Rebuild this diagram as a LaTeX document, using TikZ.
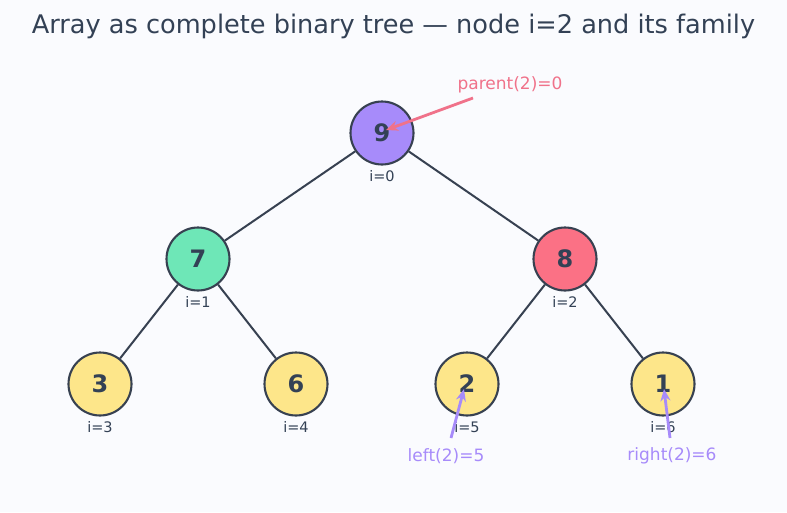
\documentclass[tikz,border=0pt]{standalone}
\usepackage{fontspec}
\setmainfont{DejaVu Sans}
\usetikzlibrary{arrows.meta}
\definecolor{bg}{HTML}{FAFBFE}
\definecolor{ink}{HTML}{374151}
\definecolor{txt}{HTML}{334155}
\definecolor{cviolet}{HTML}{A78BFA}
\definecolor{cgreen}{HTML}{6EE7B7}
\definecolor{crose}{HTML}{FB7185}
\definecolor{cyellow}{HTML}{FDE68A}
\definecolor{cpink}{HTML}{F0728A}
\begin{document}
\begin{tikzpicture}[x=1pt,y=-1pt,
  tnode/.style={circle,draw=ink,line width=2.1pt,minimum size=63pt,inner sep=0pt,
    font=\fontsize{24}{28}\selectfont\bfseries,text=txt},
  idx/.style={font=\fontsize{14.5}{17}\selectfont,text=txt},
  edge/.style={draw=ink,line width=2pt},
  pointer/.style={line width=2.8pt,-{Stealth[length=12pt,width=10pt]}},
  note/.style={font=\fontsize{17}{20}\selectfont}]
\fill[bg] (0,0) rectangle (787,512);
\useasboundingbox (0,0) rectangle (787,512);
\node[font=\fontsize{25.6}{30}\selectfont,text=txt] (title) at (393.5,26.5) {Array as complete binary tree — node i=2 and its family};

\node[tnode,fill=cviolet] (n0) at (382,133) {9};
\node[tnode,fill=cgreen] (n1) at (198,259) {7};
\node[tnode,fill=crose] (n2) at (565,259) {8};
\node[tnode,fill=cyellow] (n3) at (100,384) {3};
\node[tnode,fill=cyellow] (n4) at (296,384) {6};
\node[tnode,fill=cyellow] (n5) at (467,384) {2};
\node[tnode,fill=cyellow] (n6) at (663,384) {1};

\path[edge] (n0) -- (n1);
\path[edge] (n0) -- (n2);
\path[edge] (n1) -- (n3);
\path[edge] (n1) -- (n4);
\path[edge] (n2) -- (n5);
\path[edge] (n2) -- (n6);

\node[idx] (l0) at (382,176) {i=0};
\node[idx] (l1) at (198,302) {i=1};
\node[idx] (l2) at (565,302) {i=2};
\node[idx] (l3) at (100,427) {i=3};
\node[idx] (l4) at (296,427) {i=4};
\node[idx] (l5) at (467,427) {i=5};
\node[idx] (l6) at (663,427) {i=6};

\node[note,text=cpink] (pl) at (510,85) {parent(2)=0};
\node[note,text=cviolet] (ll) at (446,456) {left(2)=5};
\node[note,text=cviolet] (rl) at (672,456) {right(2)=6};

\coordinate (pa) at (473,98);
\coordinate (la) at (451,438);
\coordinate (ra) at (670,438);
\coordinate (pt) at (386,130);
\coordinate (lt) at (464,389);
\coordinate (rt) at (664,389);
\draw[pointer,cpink] (pa) -- (pt);
\draw[pointer,cviolet] (la) -- (lt);
\draw[pointer,cviolet] (ra) -- (rt);
\end{tikzpicture}
\end{document}
